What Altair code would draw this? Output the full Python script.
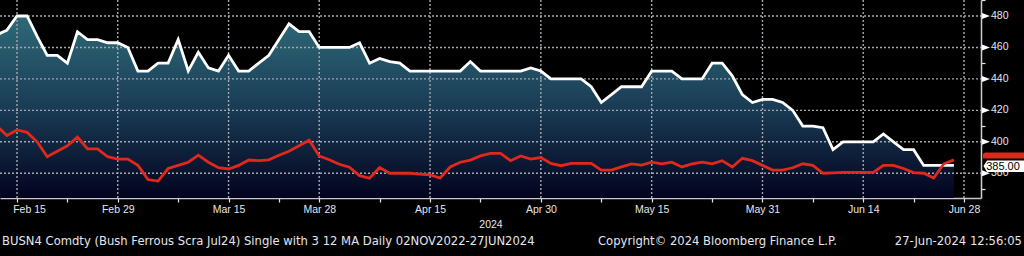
import altair as alt
import pandas as pd

# ---------------- data ----------------
holidays = ["2024-03-29", "2024-05-27"]
dates = [d.strftime("%Y-%m-%d") for d in pd.bdate_range("2024-02-13", "2024-06-27")
         if d.strftime("%Y-%m-%d") not in holidays]

price = [468, 471, 480, 480, 467, 455, 455, 450, 470, 465,
         465, 463, 463, 460, 445, 445, 450, 450, 465, 445,
         457, 447, 445, 455, 445, 445, 450, 455, 465, 475,
         470, 470, 460, 460, 460, 460, 463, 450, 453, 451,
         450, 445, 445, 445, 445, 445, 445, 451, 445, 445,
         445, 445, 445, 447, 445, 440, 440, 440, 440, 435,
         425, 430, 435, 435, 435, 445, 445, 445, 440, 440,
         440, 450, 450, 442, 430, 425, 427, 427, 425, 420,
         410, 410, 409, 395, 400, 400, 400, 400, 405, 400,
         395, 395, 385, 385, 385, 385]

ma = [410, 404, 407.5, 406, 400, 390.5, 394, 397.5, 403, 395.5,
      395.5, 390.5, 389, 389, 385, 376, 375, 383, 385, 387,
      391.5, 387, 383.5, 382.7, 385, 388.4, 388, 388.5, 391.5, 394,
      397.5, 401, 391, 388.6, 385.7, 383.8, 378.5, 376.8, 383.6, 380,
      380, 380, 379.5, 379, 377, 384, 387, 388.4, 391, 392.7,
      392.7, 388, 391, 389, 390, 386.3, 384.8, 386.3, 386.3, 386.3,
      382, 382, 384, 386, 385.2, 387, 386, 387, 384, 386,
      387, 386, 388, 384, 389.5, 388, 385, 382, 382, 383.5,
      386, 385, 380, 380.3, 380.6, 380.6, 380.6, 380.6, 385, 385,
      383, 380.4, 380, 377, 386, 388.5]

major_idx = [2, 12, 23, 32, 43, 54, 65, 76, 86, 96]
major_lbl = ["Feb 15", "Feb 29", "Mar 15", "Mar 28", "Apr 15",
             "Apr 30", "May 15", "May 31", "Jun 14", "Jun 28"]
minor_idx = [7, 18, 28, 38, 48, 60, 71, 81, 91]

y_major = [380, 400, 420, 440, 460, 480]
y_ticks = [370, 380, 390, 400, 410, 420, 430, 440, 450, 460, 470, 480, 490]

footer_left = "BUSN4 Comdty (Bush Ferrous Scra Jul24) Single with 3 12 MA  Daily 02NOV2022-27JUN2024"
footer_mid = "Copyright\u00a9 2024 Bloomberg Finance L.P."
footer_right = "27-Jun-2024 12:56:05"
year_label = "2024"

n = len(dates)
assert len(price) == n and len(ma) == n, (n, len(price), len(ma))

df = pd.DataFrame({"i": list(range(n)), "date": dates, "price": price, "ma": ma})

# ---------------- scales / axes ----------------
x_lo, x_hi = 0.3125, 97.69
x_scale = alt.Scale(domain=[x_lo, x_hi], nice=False, zero=False)
y_lo, y_hi = 364.26, 490.17
y_scale = alt.Scale(domain=[y_lo, y_hi], nice=False, zero=False)

FONT = "Liberation Sans"
FFONT = "DejaVu Sans"
LBL = "#e4e6ee"
GRID = "#a6a6ae"

label_expr = ""
for k, l in zip(major_idx, major_lbl):
    label_expr += f"datum.value == {k} ? '{l}' : "
label_expr += "''"

x_axis = alt.Axis(
    values=sorted(major_idx + minor_idx), labelExpr=label_expr, grid=False,
    domainColor="#c8c8c8", domainWidth=1.5, tickColor="#e8e8e8", tickSize=4,
    tickWidth=1.2, labelColor=LBL, labelFont=FONT, labelFontSize=10.5,
    labelPadding=2, labelFlush=False, labelOverlap=False,
    labelOffset={"condition": {"test": "datum.value == 2", "value": 12}, "value": 0},
    title=year_label, titleColor=LBL, titleFont=FONT, titleFontSize=10.5,
    titleFontWeight="normal", titlePadding=5,
)
y_axis = alt.Axis(
    orient="right", values=y_ticks, labels=False, grid=False,
    domainColor="#d0d0d0", domainWidth=1.5, tickColor="#e8e8e8", tickSize=4,
    tickWidth=1.2, title=None,
)


def X(field):
    return alt.X(field, type="quantitative", scale=x_scale, axis=x_axis)


def Y(field):
    return alt.Y(field, type="quantitative", scale=y_scale, axis=y_axis)


base = alt.Chart(df)

area = base.mark_area(
    clip=True,
    color=alt.Gradient(
        gradient="linear",
        stops=[alt.GradientStop(color="#2e6a78", offset=0),
               alt.GradientStop(color="#1a3c55", offset=0.5),
               alt.GradientStop(color="#03031f", offset=1)],
        x1=0, x2=0, y1=0, y2=1,
    ),
).encode(x=X("i"), y=Y("price"), y2=alt.datum(y_lo))

hgrid = alt.Chart(pd.DataFrame({"v": y_major})).mark_rule(
    color=GRID, strokeDash=[2, 2], strokeWidth=1.4).encode(
    y=Y("v"), x=alt.datum(x_lo), x2=alt.datum(x_hi))
vgrid = alt.Chart(pd.DataFrame({"g": major_idx})).mark_rule(
    color=GRID, strokeDash=[2, 2], strokeWidth=1.4).encode(
    x=X("g"), y=alt.datum(y_hi), y2=alt.datum(y_lo))

white = base.mark_line(clip=True, color="#ffffff", strokeWidth=2.8).encode(
    x=X("i"), y=Y("price"))
red = base.mark_line(clip=True, color="#e0281c", strokeWidth=2.8).encode(
    x=X("i"), y=Y("ma"))

ylab_df = pd.DataFrame({"v": y_major, "t": [str(v) for v in y_major]})
tri = alt.Chart(ylab_df).mark_point(
    shape="M-1,-0.75L1,0L-1,0.75Z", filled=True, color="#ffffff", opacity=1,
    size=64, strokeWidth=0,
).encode(x=alt.value(986), y=Y("v"))
ylabels = alt.Chart(ylab_df).mark_text(
    align="left", baseline="middle", color=LBL, font=FONT, fontSize=10.5,
).encode(x=alt.value(991), y=Y("v"), text="t:N")

last = pd.DataFrame({"p": [price[-1]], "m": [ma[-1]], "label": [f"{price[-1]:.2f}"]})
red_tag = alt.Chart(last).mark_point(
    shape="M-1.05,-0.3L-0.95,-0.37L1.1,-0.37L1.1,-0.07L-1.05,-0.07Z",
    filled=True, color="#e0281c", opacity=1, size=1600, strokeWidth=0,
).encode(x=alt.value(1004), y=Y("m"))
white_tag = alt.Chart(last).mark_point(
    shape="M-1.025,0.03L-0.85,-0.245L1.1,-0.245L1.1,0.33L-0.85,0.33Z",
    filled=True, color="#ffffff", opacity=1, size=1600, strokeWidth=0,
).encode(x=alt.value(1004), y=Y("p"))
tag_text = alt.Chart(last).mark_text(
    align="center", baseline="middle", color="#000000", font=FONT, fontSize=11, dy=1.5,
).encode(x=alt.value(1003), y=Y("p"), text="label:N")

foot_style = dict(baseline="middle", color=LBL, font=FFONT, fontSize=11.6)
f1 = alt.Chart(pd.DataFrame({"t": [footer_left]})).mark_text(align="left", **foot_style).encode(
    x=alt.value(2), y=alt.value(242), text="t:N")
f2 = alt.Chart(pd.DataFrame({"t": [footer_mid]})).mark_text(align="left", **foot_style).encode(
    x=alt.value(598), y=alt.value(242), text="t:N")
f3 = alt.Chart(pd.DataFrame({"t": [footer_right]})).mark_text(align="right", **foot_style).encode(
    x=alt.value(1022), y=alt.value(242), text="t:N")

chart = alt.layer(
    area, hgrid, vgrid, white, red, tri, ylabels, red_tag, white_tag,
    tag_text, f1, f2, f3
).properties(
    width=981, height=198,
    padding={"left": 0, "top": 0, "right": 43, "bottom": 58},
    autosize=alt.AutoSizeParams(type="none"),
    background="#000000",
).configure_view(stroke="transparent")

chart.save("out.html", embed_options={"renderer": "svg", "actions": False})
